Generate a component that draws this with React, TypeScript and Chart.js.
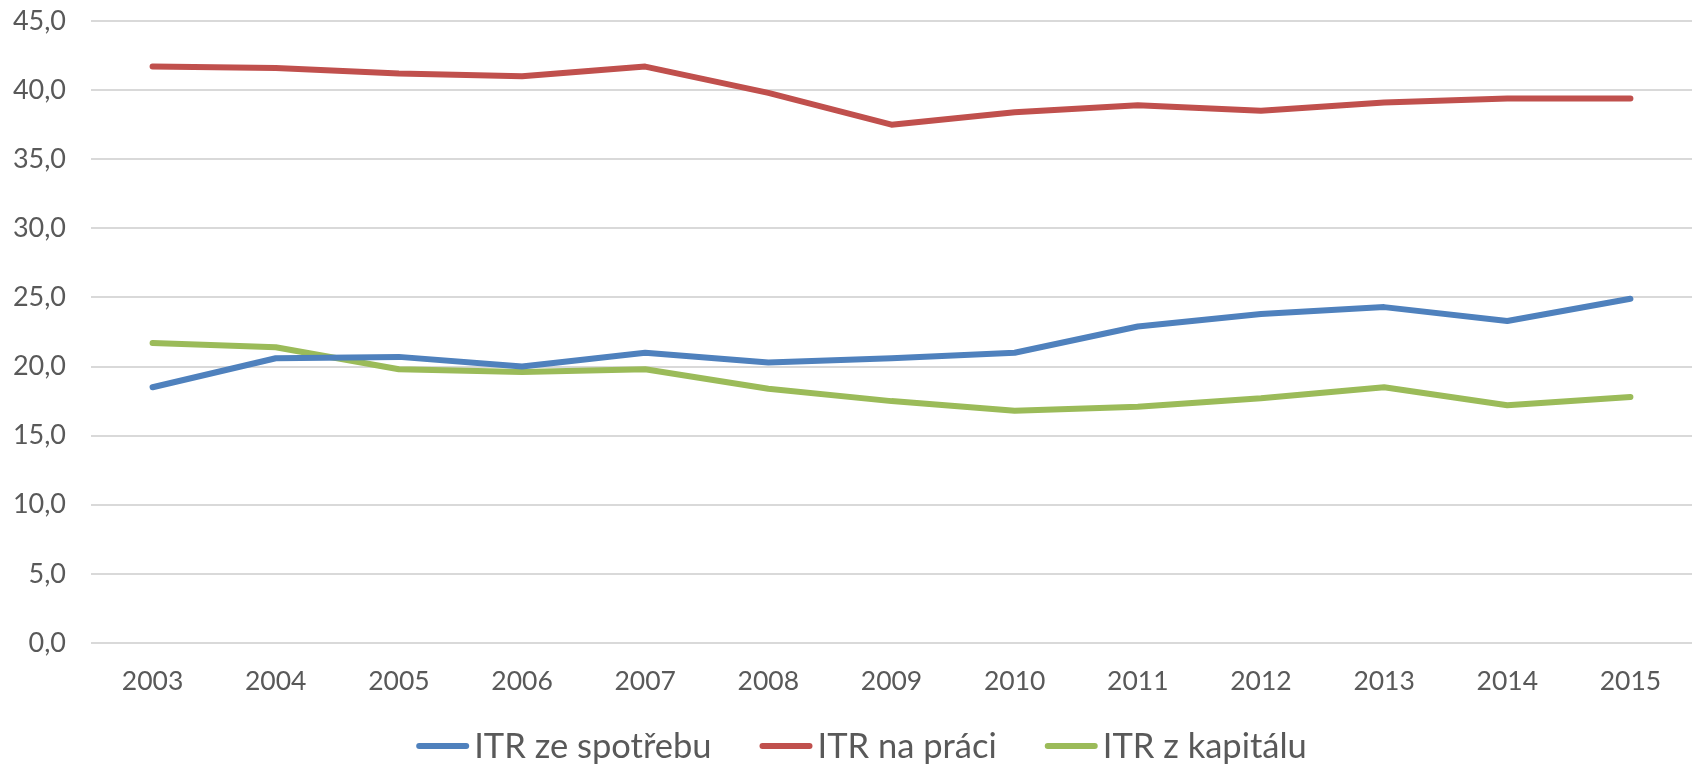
import React, { useEffect, useRef } from 'react';
import { Chart, registerables } from 'chart.js';

Chart.register(...registerables);

const years = ['2003', '2004', '2005', '2006', '2007', '2008', '2009', '2010', '2011', '2012', '2013', '2014', '2015'];
const seriesNames = ['ITR ze spotřebu', 'ITR na práci', 'ITR z kapitálu'];
const itrSpotreba = [18.5, 20.6, 20.7, 20.0, 21.0, 20.3, 20.6, 21.0, 22.9, 23.8, 24.3, 23.3, 24.9];
const itrPrace = [41.7, 41.6, 41.2, 41.0, 41.7, 39.8, 37.5, 38.4, 38.9, 38.5, 39.1, 39.4, 39.4];
const itrKapital = [21.7, 21.4, 19.8, 19.6, 19.8, 18.4, 17.5, 16.8, 17.1, 17.7, 18.5, 17.2, 17.8];
const seriesColors = ['#4f81bd', '#c0504d', '#9bbb59'];
const yTickLabels = ['0,0', '5,0', '10,0', '15,0', '20,0', '25,0', '30,0', '35,0', '40,0', '45,0'];

const FONT = 'Lato, "Open Sans", sans-serif';
const TEXT_COLOR = '#595959';

const customLegend = {
  id: 'customLegend',
  afterDraw(chart: any) {
    const ctx = chart.ctx as CanvasRenderingContext2D;
    ctx.save();
    ctx.font = `34.5px ${FONT}`;
    const lineLen = 53;
    const gap = 5;
    const itemGap = 48;
    const items = chart.data.datasets.map((ds: any) => ({
      text: ds.label as string,
      color: ds.borderColor as string,
      w: ctx.measureText(ds.label).width,
    }));
    const total = items.reduce((s: number, it: any) => s + lineLen + gap + it.w, 0) + itemGap * (items.length - 1);
    let x = 861.5 - total / 2;
    const y = chart.height - 20;
    for (const it of items) {
      ctx.beginPath();
      ctx.strokeStyle = it.color;
      ctx.lineWidth = 6;
      ctx.lineCap = 'round';
      ctx.moveTo(x + 3, y);
      ctx.lineTo(x + lineLen - 3, y);
      ctx.stroke();
      ctx.fillStyle = TEXT_COLOR;
      ctx.textBaseline = 'middle';
      ctx.textAlign = 'left';
      ctx.fillText(it.text, x + lineLen + gap, y + 1);
      x += lineLen + gap + it.w + itemGap;
    }
    ctx.restore();
  },
};

export default function App() {
  const canvasRef = useRef<HTMLCanvasElement | null>(null);

  useEffect(() => {
    if (!canvasRef.current) return;
    const values = [itrSpotreba, itrPrace, itrKapital];
    const chart = new Chart(canvasRef.current, {
      type: 'line',
      data: {
        labels: years,
        datasets: values.map((v, i) => ({
          label: seriesNames[i],
          data: v,
          borderColor: seriesColors[i],
          backgroundColor: seriesColors[i],
          borderWidth: 6,
          pointRadius: 0,
          pointHoverRadius: 0,
          tension: 0,
          borderCapStyle: 'round' as const,
          borderJoinStyle: 'round' as const,
          fill: false,
        })),
      },
      options: {
        animation: false,
        responsive: true,
        maintainAspectRatio: false,
        layout: { padding: { top: 21, right: 6, bottom: 56, left: 0 } },
        plugins: {
          legend: { display: false },
          tooltip: { enabled: false },
        },
        scales: {
          x: {
            offset: true,
            grid: { display: false, drawTicks: false },
            border: { display: false },
            ticks: {
              color: TEXT_COLOR,
              font: { family: FONT, size: 26.5 },
              padding: 23,
              maxRotation: 0,
              autoSkip: false,
            },
            afterFit: (s: any) => {
              s.height = 67;
            },
          },
          y: {
            min: 0,
            max: 45,
            grid: { color: '#d9d9d9', lineWidth: 2, drawTicks: true, tickLength: 25, tickColor: 'rgba(0,0,0,0)' },
            border: { display: false },
            ticks: {
              stepSize: 5,
              color: TEXT_COLOR,
              font: { family: FONT, size: 27 },
              padding: 0,
              callback: (_v: any, i: number) => yTickLabels[i],
            },
            afterFit: (s: any) => {
              s.width = 91;
            },
          },
        },
      },
      plugins: [customLegend],
    });
    return () => chart.destroy();
  }, []);

  return (
    <div style={{ position: 'fixed', left: 0, top: 0, width: '1698px', height: '766px', background: '#ffffff' }}>
      <canvas ref={canvasRef} />
    </div>
  );
}
